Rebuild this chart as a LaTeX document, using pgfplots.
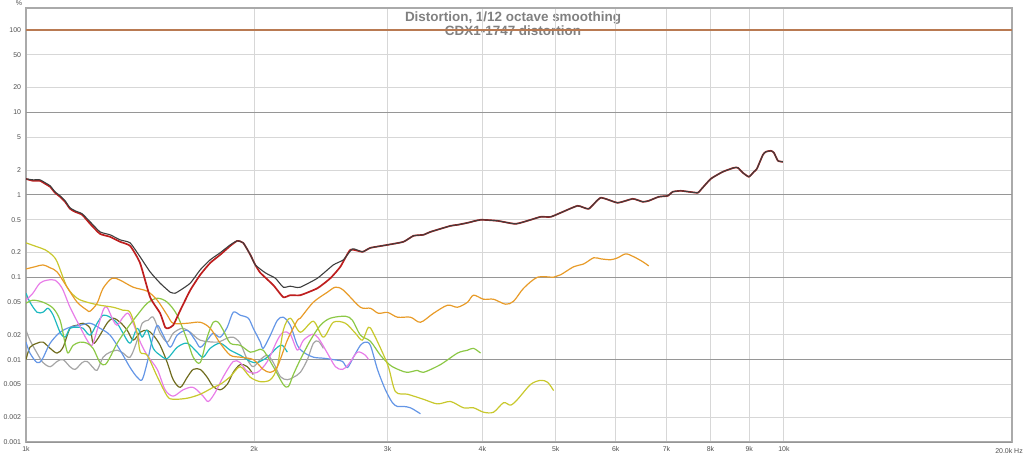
\documentclass[border=0pt]{standalone}
\usepackage{pgfplots}
\pgfplotsset{compat=1.18}
\usepackage{fontspec}
\setmainfont{Liberation Sans}
\definecolor{cMain}{RGB}{62,62,62}
\definecolor{cRed}{RGB}{190,30,30}
\definecolor{cOrange}{RGB}{232,155,40}
\definecolor{cYellow}{RGB}{200,200,45}
\definecolor{cGreen}{RGB}{140,200,70}
\definecolor{cPink}{RGB}{232,125,232}
\definecolor{cCyan}{RGB}{30,185,192}
\definecolor{cBlue}{RGB}{100,150,230}
\definecolor{cGray}{RGB}{165,165,165}
\definecolor{cOlive}{RGB}{112,108,30}
\definecolor{cHund}{RGB}{185,122,82}
\definecolor{gMaj}{RGB}{150,150,150}
\definecolor{gMin}{RGB}{215,215,215}
\definecolor{gFrame}{RGB}{170,170,170}
\definecolor{cTitle}{RGB}{128,128,128}
\definecolor{cTick}{RGB}{80,80,80}
\begin{document}
\begin{tikzpicture}
\useasboundingbox (0,0) rectangle (1024bp,456bp);
\node[text=cTitle, font=\fontsize{13.5}{14}\selectfont\bfseries, anchor=base] at (513bp,434bp) {Distortion, 1/12 octave smoothing};
\node[text=cTitle, font=\fontsize{13.5}{14}\selectfont\bfseries, anchor=base] at (513bp,420bp) {CDX1-1747 distortion};
\node[text=cTick, font=\fontsize{7}{8}\selectfont] at (19bp,453bp) {\%};
\begin{axis}[
  at={(26bp,14bp)}, anchor=south west,
  scale only axis, width=986bp, height=434bp,
  xmode=log, ymode=log,
  xmin=1000, xmax=20000, ymin=0.001, ymax=184.9,
  xtick={1000,2000,3000,4000,5000,6000,7000,8000,9000,10000},
  xticklabels={1k,2k,3k,4k,5k,6k,7k,8k,9k,10k},
  ytick={0.001,0.002,0.005,0.01,0.02,0.05,0.1,0.2,0.5,1,2,5,10,20,50,100},
  yticklabels={0.001,0.002,0.005,0.01,0.02,0.05,0.1,0.2,0.5,1,2,5,10,20,50,100},
  minor xtick={}, minor ytick={},
  major tick length=0pt,
  tick label style={font=\fontsize{7}{8}\selectfont, text=cTick},
  yticklabel style={xshift=-1.5bp},
  xticklabel style={yshift=-1bp},
  grid=major,
  major grid style={draw=gMin, line width=0.9bp},
  extra y ticks={0.001,0.01,0.1,1,10,100},
  extra y tick labels={},
  extra y tick style={major grid style={draw=gMaj, line width=0.9bp}},
  axis line style={draw=gFrame, line width=1.2bp},
  every axis plot/.append style={line width=1.2bp, line join=round},
  sm/.style={smooth, tension=0.5},
]
% gray
\addplot[cGray, sm] table {
1000 0.0227
1012 0.0172
1034 0.0120
1053 0.0092
1076 0.0082
1099 0.0095
1119 0.0100
1143 0.0082
1161 0.0076
1186 0.0092
1204 0.0095
1226 0.0080
1241 0.0074
1264 0.0107
1291 0.0123
1319 0.0130
1343 0.0120
1372 0.0107
1402 0.0172
1423 0.0276
1449 0.0300
1472 0.0327
1503 0.0209
1536 0.0163
1564 0.0209
1607 0.0240
1647 0.0215
1698 0.0172
1788 0.0163
1843 0.0182
1877 0.0187
1917 0.0158
1959 0.0100
1995 0.0082
2038 0.0100
2082 0.0113
2120 0.0092
2166 0.0062
2212 0.0057
2253 0.0061
2301 0.0070
2351 0.0100
2394 0.0158
2431 0.0167
2468 0.0137
};
% olive
\addplot[cOlive, sm] table {
1000 0.0100
1012 0.0141
1034 0.0158
1053 0.0163
1076 0.0137
1099 0.0120
1119 0.0141
1143 0.0240
1168 0.0261
1189 0.0276
1215 0.0240
1226 0.0158
1245 0.0182
1279 0.0276
1303 0.0318
1331 0.0284
1360 0.0227
1385 0.0172
1415 0.0215
1445 0.0227
1472 0.0198
1503 0.0149
1536 0.0092
1564 0.0057
1598 0.0046
1632 0.0061
1662 0.0076
1698 0.0076
1734 0.0061
1766 0.0047
1804 0.0043
1843 0.0050
1877 0.0070
1917 0.0087
1959 0.0082
1995 0.0066
};
% blue
\addplot[cBlue, sm] table {
1000 0.0163
1012 0.0120
1034 0.0092
1050 0.0100
1076 0.0158
1109 0.0215
1143 0.0247
1179 0.0261
1215 0.0276
1252 0.0240
1291 0.0198
1331 0.0130
1372 0.0080
1402 0.0061
1423 0.0057
1445 0.0092
1467 0.0172
1490 0.0261
1517 0.0198
1550 0.0141
1583 0.0198
1632 0.0227
1672 0.0172
1698 0.0141
1734 0.0172
1766 0.0209
1804 0.0187
1843 0.0247
1877 0.0376
1917 0.0346
1965 0.0318
1995 0.0240
2038 0.0163
2056 0.0137
2101 0.0198
2146 0.0300
2185 0.0327
2232 0.0261
2281 0.0149
2323 0.0123
2394 0.0107
2468 0.0104
2544 0.0100
2615 0.0095
2655 0.0080
2704 0.0107
2762 0.0149
2804 0.0163
2847 0.0149
2909 0.0076
2980 0.0043
3044 0.0030
3091 0.0027
3148 0.0027
3216 0.0026
3315 0.0022
};
% cyan
\addplot[cCyan, sm] table {
1000 0.0639
1012 0.0497
1034 0.0376
1053 0.0376
1069 0.0420
1086 0.0346
1109 0.0215
1126 0.0187
1143 0.0240
1168 0.0247
1189 0.0240
1215 0.0198
1241 0.0276
1264 0.0346
1291 0.0327
1319 0.0276
1343 0.0209
1372 0.0158
1402 0.0240
1423 0.0187
1445 0.0227
1472 0.0137
1503 0.0113
1536 0.0103
1583 0.0141
1632 0.0158
1682 0.0123
1713 0.0107
1750 0.0137
1804 0.0158
1860 0.0130
1917 0.0113
1977 0.0095
2019 0.0092
2082 0.0107
2146 0.0141
2179 0.0149
2212 0.0123
};
% pink
\addplot[cPink, sm] table {
1000 0.0526
1021 0.0639
1043 0.0846
1066 0.0920
1092 0.0920
1116 0.0735
1143 0.0432
1179 0.0247
1204 0.0172
1222 0.0149
1241 0.0227
1264 0.0397
1279 0.0432
1303 0.0300
1319 0.0261
1343 0.0327
1364 0.0365
1385 0.0276
1415 0.0163
1445 0.0113
1490 0.0076
1526 0.0043
1564 0.0036
1612 0.0043
1662 0.0046
1713 0.0036
1740 0.0031
1777 0.0040
1821 0.0062
1877 0.0095
1917 0.0092
1959 0.0072
2019 0.0070
2082 0.0095
2146 0.0172
2185 0.0215
2232 0.0203
2281 0.0130
2323 0.0172
2387 0.0203
2431 0.0182
2498 0.0120
2560 0.0082
2615 0.0076
2663 0.0087
2737 0.0123
2804 0.0113
2830 0.0100
};
% light green
\addplot[cGreen, sm] table {
1000 0.0483
1021 0.0526
1053 0.0497
1086 0.0420
1109 0.0300
1126 0.0158
1136 0.0120
1154 0.0149
1179 0.0163
1204 0.0158
1226 0.0137
1252 0.0092
1272 0.0087
1291 0.0107
1319 0.0158
1360 0.0240
1402 0.0346
1445 0.0483
1490 0.0556
1536 0.0497
1583 0.0346
1632 0.0172
1662 0.0107
1698 0.0092
1734 0.0187
1766 0.0284
1793 0.0284
1821 0.0227
1860 0.0158
1917 0.0149
1977 0.0123
2019 0.0130
2056 0.0130
2120 0.0082
2185 0.0050
2219 0.0047
2253 0.0066
2301 0.0100
2373 0.0172
2446 0.0261
2521 0.0318
2639 0.0336
2696 0.0300
2762 0.0198
2847 0.0167
2935 0.0113
3026 0.0085
3119 0.0074
3187 0.0070
3285 0.0074
3345 0.0070
3523 0.0087
3710 0.0120
3824 0.0130
3895 0.0137
3979 0.0120
};
% yellow
\addplot[cYellow, sm] table {
1000 0.261
1034 0.234
1060 0.215
1082 0.187
1099 0.154
1133 0.0756
1168 0.0556
1204 0.0497
1252 0.0457
1303 0.0432
1343 0.0397
1372 0.0374
1402 0.0209
1415 0.0123
1445 0.0113
1490 0.0062
1536 0.0036
1564 0.0033
1632 0.0034
1698 0.0038
1766 0.0046
1804 0.0050
1860 0.0062
1917 0.0082
1977 0.0061
2038 0.0054
2101 0.0057
2146 0.0082
2185 0.0227
2232 0.0318
2301 0.0215
2394 0.0292
2468 0.0187
2544 0.0284
2639 0.0276
2720 0.0209
2779 0.0172
2830 0.0247
2873 0.0209
3000 0.0087
3072 0.0041
3187 0.0038
3345 0.0033
3491 0.0029
3632 0.0031
3778 0.0026
3895 0.0026
4015 0.0023
4139 0.0023
4267 0.0030
4359 0.0028
4453 0.0033
4632 0.0050
4775 0.0056
4878 0.0053
4968 0.0042
};
% orange
\addplot[cOrange, sm] table {
1000 0.126
1028 0.134
1053 0.141
1076 0.130
1099 0.116
1133 0.0756
1168 0.0497
1204 0.0397
1215 0.0387
1241 0.0483
1264 0.0735
1299 0.0972
1331 0.0920
1385 0.0756
1445 0.0676
1490 0.0526
1536 0.0346
1564 0.0276
1632 0.0276
1698 0.0284
1750 0.0240
1804 0.0158
1860 0.0113
1917 0.0107
1995 0.0100
2056 0.0076
2101 0.0070
2146 0.0082
2212 0.0172
2281 0.0300
2301 0.0318
2394 0.0497
2498 0.0657
2560 0.0756
2623 0.0695
2762 0.0432
2847 0.0420
2917 0.0365
3000 0.0374
3091 0.0327
3216 0.0327
3315 0.0284
3449 0.0365
3599 0.0457
3710 0.0432
3824 0.0497
3895 0.0605
4015 0.0540
4139 0.0540
4293 0.0470
4399 0.0511
4535 0.0735
4732 0.100
4968 0.100
5075 0.107
5280 0.134
5443 0.145
5611 0.172
5732 0.167
5909 0.163
6036 0.172
6184 0.192
6337 0.177
6513 0.154
6633 0.137
};
% red
\addplot[cRed, line width=1.7bp, smooth, tension=0.3] table {
1000 1.56
1021 1.48
1043 1.48
1060 1.36
1076 1.25
1092 1.06
1109 0.946
1126 0.822
1143 0.676
1161 0.621
1186 0.572
1215 0.444
1252 0.336
1291 0.309
1331 0.269
1372 0.240
1414 0.149
1458 0.0572
1503 0.0365
1526 0.0247
1540 0.0240
1564 0.0261
1598 0.0397
1647 0.0695
1698 0.107
1750 0.149
1804 0.187
1860 0.240
1900 0.276
1935 0.261
1977 0.187
2007 0.141
2038 0.113
2120 0.0800
2185 0.0572
2232 0.0605
2301 0.0605
2424 0.0735
2521 0.0972
2599 0.134
2679 0.215
2779 0.203
2847 0.227
3000 0.247
3148 0.269
3245 0.318
3345 0.327
3417 0.355
3632 0.420
3710 0.432
3824 0.457
3979 0.497
4190 0.483
4426 0.444
4632 0.497
4775 0.540
4923 0.540
5075 0.605
5344 0.735
5526 0.676
5732 0.920
6036 0.800
6318 0.894
6513 0.822
6633 0.846
6838 0.946
7027 0.972
7135 1.088
7311 1.118
7491 1.088
7699 1.058
7769 1.150
8009 1.564
8307 1.903
8590 2.128
8695 2.128
8828 1.850
8991 1.654
9129 1.903
9212 2.069
9382 3.06
9468 3.33
9613 3.42
9701 3.24
9820 2.587
9970 2.516
};
% main (dark)
\addplot[cMain, line width=1.1bp, smooth, tension=0.3] table {
1000 1.56
1021 1.52
1043 1.52
1060 1.40
1076 1.286
1092 1.088
1109 0.972
1126 0.846
1143 0.695
1161 0.639
1186 0.588
1215 0.470
1252 0.355
1291 0.327
1331 0.284
1372 0.261
1414 0.177
1458 0.116
1503 0.0846
1550 0.0657
1573 0.0639
1598 0.0695
1647 0.0846
1698 0.123
1750 0.1625
1804 0.198
1860 0.247
1900 0.276
1935 0.261
1977 0.187
2007 0.141
2069 0.113
2133 0.0972
2185 0.0756
2232 0.0778
2267 0.0756
2301 0.0756
2424 0.0972
2544 0.141
2623 0.1625
2696 0.221
2779 0.203
2847 0.227
3000 0.247
3148 0.269
3245 0.318
3345 0.327
3417 0.355
3632 0.420
3710 0.432
3824 0.457
3979 0.497
4190 0.483
4426 0.444
4632 0.497
4775 0.540
4923 0.540
5075 0.605
5344 0.735
5526 0.676
5732 0.920
6036 0.800
6318 0.894
6513 0.822
6633 0.846
6838 0.946
7027 0.972
7135 1.088
7311 1.118
7491 1.088
7699 1.058
7769 1.150
8009 1.564
8307 1.903
8590 2.128
8695 2.128
8828 1.850
8991 1.654
9129 1.903
9212 2.069
9382 3.06
9468 3.33
9613 3.42
9701 3.24
9820 2.587
9970 2.516
};
% 100 % line
\addplot[cHund, line width=1.5bp] coordinates {(1000,100) (20000,100)};
\end{axis}
\node[text=cTick, font=\fontsize{7}{8}\selectfont, anchor=north] at (1009bp,11bp) {20.0k Hz};
\end{tikzpicture}
\end{document}
